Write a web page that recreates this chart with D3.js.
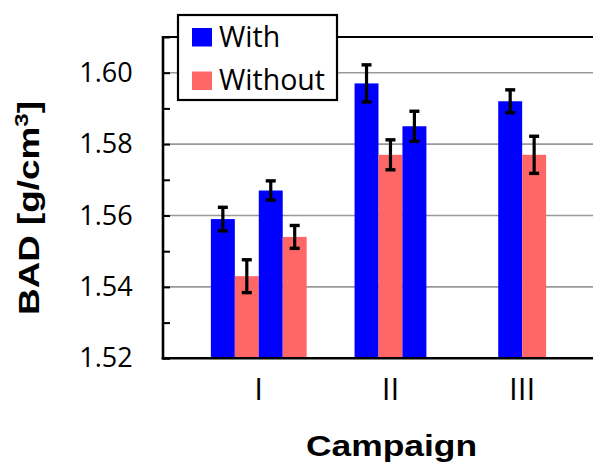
<!DOCTYPE html>
<html>
<head>
<meta charset="utf-8">
<script src="https://cdn.jsdelivr.net/npm/d3@7"></script>
<style>
  html, body { margin: 0; padding: 0; background: #fff; }
  svg { display: block; }
</style>
</head>
<body>
<svg id="chart" width="593" height="466"></svg>
<script>
// Campaign categories and series names
const campaigns = ["I", "II", "III"];
const seriesNames = ["With", "Without"];

// One entry per bar, in drawing order within each campaign
const barCampaign = ["I", "I", "I", "I", "II", "II", "II", "III", "III"];
const barSeries   = ["With", "Without", "With", "Without", "With", "Without", "With", "With", "Without"];
const barValue    = [1.559, 1.543, 1.567, 1.554, 1.597, 1.577, 1.585, 1.592, 1.577];
const barError    = [0.0033, 0.0046, 0.0027, 0.0032, 0.0052, 0.0042, 0.0042, 0.0032, 0.0052];

// Y axis ticks
const yMajorTicks = [1.52, 1.54, 1.56, 1.58, 1.60];
const yMinorTicks = [1.53, 1.55, 1.57, 1.59, 1.61];
const yDomain = [1.52, 1.61];

const colors = { "With": "#0000ff", "Without": "#ff6666" };

const svg = d3.select("#chart");
const plotLeft = 163, plotRight = 594, plotTop = 37, plotBottom = 358.3;

const x = d3.scaleBand().domain(campaigns).range([plotLeft, plotRight]).padding(0);
const slotsPerBand = 6, firstSlot = 2;
const slotW = x.bandwidth() / slotsPerBand;
const y = d3.scaleLinear().domain(yDomain).range([plotBottom, plotTop]);

const bars = barValue.map((v, i) => ({
  campaign: barCampaign[i], series: barSeries[i], value: v, err: barError[i]
}));
// index of each bar inside its campaign group
const counter = {};
bars.forEach(b => { b.slot = (counter[b.campaign] = (counter[b.campaign] ?? -1) + 1); });
const barX = b => x(b.campaign) + (firstSlot + b.slot) * slotW;

// gridlines
svg.append("g")
  .selectAll("line")
  .data(yMajorTicks.filter(t => t > yDomain[0]))
  .join("line")
  .attr("x1", plotLeft).attr("x2", plotRight)
  .attr("y1", d => y(d)).attr("y2", d => y(d))
  .attr("stroke", "#999").attr("stroke-width", 1.6);

// top frame line
svg.append("line")
  .attr("x1", plotLeft).attr("x2", plotRight)
  .attr("y1", y(yDomain[1])).attr("y2", y(yDomain[1]))
  .attr("stroke", "#000").attr("stroke-width", 2.2);

// bars
svg.append("g")
  .selectAll("rect")
  .data(bars)
  .join("rect")
  .attr("x", barX)
  .attr("width", slotW)
  .attr("y", d => y(d.value))
  .attr("height", d => plotBottom - y(d.value))
  .attr("fill", d => colors[d.series]);

// error bars
const eb = svg.append("g").attr("stroke", "#000");
bars.forEach(b => {
  const cx = barX(b) + slotW / 2;
  eb.append("line").attr("x1", cx).attr("x2", cx)
    .attr("y1", y(b.value + b.err)).attr("y2", y(b.value - b.err))
    .attr("stroke-width", 3.2);
  [b.value + b.err, b.value - b.err].forEach(v => {
    eb.append("line").attr("x1", cx - 5).attr("x2", cx + 5)
      .attr("y1", y(v)).attr("y2", y(v))
      .attr("stroke-width", 3.4);
  });
});

// left axis: major ticks with labels, minor ticks without
const yAxis = svg.append("g")
  .attr("transform", `translate(${plotLeft},0)`)
  .call(d3.axisLeft(y).tickValues(yMajorTicks).tickSize(-7).tickPadding(30.3)
    .tickFormat(d3.format(".2f")));
yAxis.select(".domain").remove();
yAxis.selectAll(".tick line").attr("stroke", "#000").attr("stroke-width", 2);
yAxis.selectAll(".tick text")
  .attr("font-family", "'Open Sans', sans-serif")
  .attr("font-size", 27).attr("fill", "#000");

const yMinor = svg.append("g")
  .attr("transform", `translate(${plotLeft},0)`)
  .call(d3.axisLeft(y).tickValues(yMinorTicks).tickSize(-7).tickFormat(""));
yMinor.select(".domain").remove();
yMinor.selectAll(".tick line").attr("stroke", "#000").attr("stroke-width", 2);

// axis lines
svg.append("line")
  .attr("x1", plotLeft).attr("x2", plotLeft).attr("y1", plotTop - 1).attr("y2", plotBottom + 1.2)
  .attr("stroke", "#000").attr("stroke-width", 2.6);
svg.append("line")
  .attr("x1", plotLeft - 1.3).attr("x2", plotRight).attr("y1", plotBottom).attr("y2", plotBottom)
  .attr("stroke", "#000").attr("stroke-width", 2.6);

// campaign labels centred under each group of bars
svg.append("g")
  .selectAll("text")
  .data(campaigns)
  .join("text")
  .attr("x", c => {
    const n = bars.filter(b => b.campaign === c).length;
    return x(c) + (firstSlot + n / 2) * slotW;
  })
  .attr("y", 399.5)
  .attr("text-anchor", "middle")
  .attr("font-family", "'Open Sans', sans-serif")
  .attr("font-size", 31.5)
  .attr("fill", "#000")
  .text(d => d);

// axis titles
svg.append("text")
  .attr("transform", "translate(391.5,456) scale(1.2,1)")
  .attr("text-anchor", "middle")
  .attr("font-family", "'Liberation Sans', Arial, sans-serif")
  .attr("font-weight", "bold")
  .attr("font-size", 29.5)
  .text("Campaign");

const yTitle = svg.append("text")
  .attr("transform", "translate(38.5,208) rotate(-90) scale(1.27,1)")
  .attr("text-anchor", "middle")
  .attr("font-family", "'Liberation Sans', Arial, sans-serif")
  .attr("font-weight", "bold")
  .attr("font-size", 29);
yTitle.append("tspan").text("BAD [g/cm");
yTitle.append("tspan").attr("font-size", 19).attr("dy", -11).text("3");
yTitle.append("tspan").attr("dy", 11).text("]");

// legend
const legend = svg.append("g");
legend.append("rect")
  .attr("x", 178).attr("y", 15).attr("width", 159).attr("height", 85)
  .attr("fill", "#fff").attr("stroke", "#000").attr("stroke-width", 2.2);
seriesNames.forEach((s, i) => {
  const yy = 28 + i * 43.5;
  legend.append("rect").attr("x", 192).attr("y", yy).attr("width", 20).attr("height", 18.5)
    .attr("fill", colors[s]);
  legend.append("text").attr("x", 219).attr("y", yy + 18.5)
    .attr("font-family", "'Open Sans', sans-serif")
    .attr("font-size", 28.5).attr("fill", "#000").text(s);
});
</script>
</body>
</html>
